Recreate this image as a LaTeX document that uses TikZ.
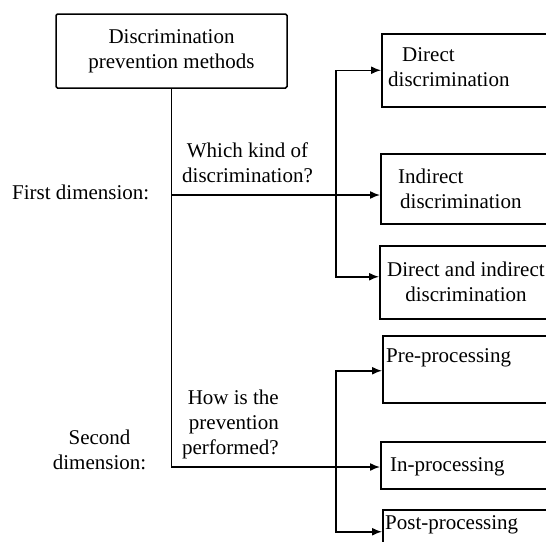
\documentclass[tikz,border=0pt]{standalone}
\usepackage{fontspec}
\setmainfont{Liberation Serif}
\usepackage{tikz}
\usetikzlibrary{arrows.meta}

\begin{document}
\begin{tikzpicture}[
	x = 1pt, y = -1pt,
	every node/.style={font=\fontsize{21}{25}\selectfont},
	link/.style={line width=1.5pt, line join=miter, >={Latex[length=10pt,width=8pt]}},
	root/.style={draw, line width=1.5pt, rounded corners=1.5pt, minimum width=231pt, minimum height=74pt, align=center, inner sep=0pt},
	box/.style={draw, line width=1.5pt, minimum width=220pt, anchor=north west, inner sep=0pt},
	txt/.style={inner sep=0pt, anchor=west, align=left},
	]
	\useasboundingbox (0,0) rectangle (546,541);

	\node (methods) [root] at (171.5,51) {Discrimination\\prevention methods};

	% first dimension
	\node (direct)   [box, minimum height=73pt] at (381,33) {};
	\node (indirect) [box, minimum height=70pt] at (380,153) {};
	\node (both)     [box, minimum height=73pt] at (379,245) {};
	\node (direct-txt)   [txt] at ([xshift=7pt,yshift=3pt]direct.west) {\hspace*{14pt}Direct\\discrimination};
	\node (indirect-txt) [txt] at ([xshift=18pt]indirect.west) {Indirect\\\hspace*{2pt}discrimination};
	\node (both-txt)     [txt, align=center] at ([xshift=8pt]both.west) {Direct and indirect\\discrimination};

	% second dimension
	\node (pre)    [box, minimum height=67pt] at (382,335) {};
	\node (inproc) [box, minimum height=47pt] at (380,441) {};
	\node (post)   [box, minimum height=60pt] at (382,509) {};
	\node (pre-txt)    [txt] at ([xshift=4pt,yshift=11.5pt]pre.west) {Pre-processing};
	\node (inproc-txt) [txt] at ([xshift=10pt,yshift=-1.5pt]inproc.west) {In-processing};
	\node (post-txt)   [txt] at ([xshift=3pt,yshift=-16pt]post.north west) {Post-processing};

	\node (first)  [txt] at (12,192) {First dimension:};
	\node (second) [align=center, inner sep=0pt] at (99.5,450) {Second\\dimension:};
	\node (which)  [txt, align=center] at (182,162.5) {Which kind of\\discrimination?};
	\node (how)    [inner sep=0pt, anchor=east, align=right] at (279,424) {How is the\\prevention\\performed?};

	\coordinate (j1) at (336,195);
	\coordinate (j2) at (336,467);

	\draw[link,->] (methods.south) |- (j2) -- (j2 -| inproc.west);
	\draw[link,->] (methods.south |- j1) -- (j1 -| indirect.west);
	\draw[link,->] (j1) |- (direct.west);
	\draw[link,->] (j1) |- ([yshift=5.5pt]both.west);
	\draw[link,->] (j2) |- ([yshift=-1.5pt]pre.west);
	\draw[link,->] (j2) |- ([yshift=8pt]post.west);
\end{tikzpicture}
\end{document}
